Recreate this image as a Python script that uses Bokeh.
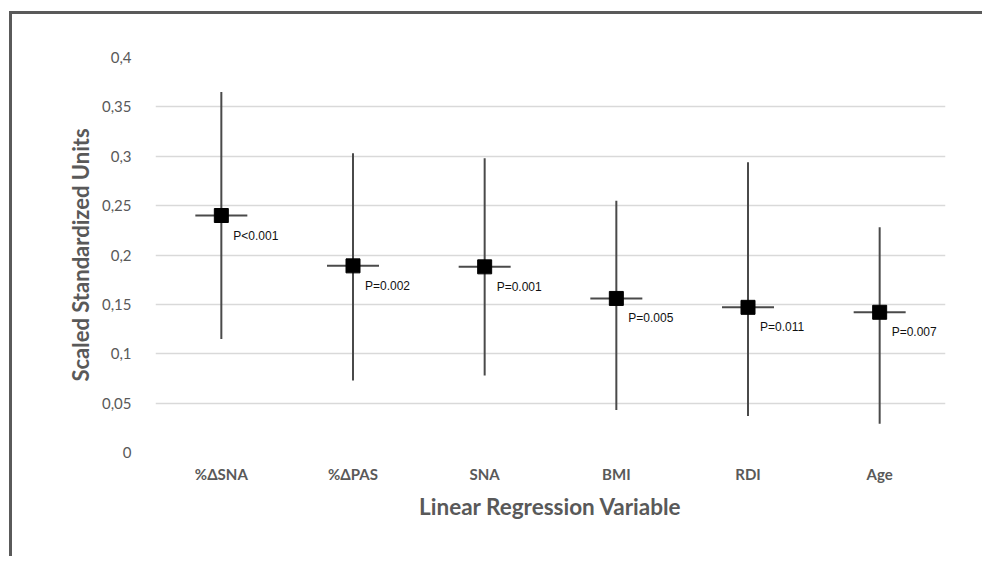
from bokeh.plotting import figure
from bokeh.models import ColumnDataSource, FixedTicker
from bokeh.embed import file_html
from bokeh.resources import INLINE
from bokeh.core.properties import value

categories = ["%ΔSNA", "%ΔPAS", "SNA", "BMI", "RDI", "Age"]
estimates = [0.240, 0.189, 0.188, 0.156, 0.147, 0.142]
upper = [0.365, 0.303, 0.298, 0.255, 0.294, 0.228]
lower = [0.115, 0.073, 0.078, 0.043, 0.037, 0.029]
p_labels = ["P<0.001", "P=0.002", "P=0.001", "P=0.005", "P=0.011", "P=0.007"]
y_ticks = [0, 0.05, 0.1, 0.15, 0.2, 0.25, 0.3, 0.35, 0.4]
y_tick_labels = ["0", "0,05", "0,1", "0,15", "0,2", "0,25", "0,3", "0,35", "0,4"]

src = ColumnDataSource(dict(cat=categories, est=estimates, up=upper, lo=lower, lab=p_labels))

GREY = "#595959"

p = figure(x_range=categories, y_range=(0, 0.4), width=973, height=545,
           output_backend="svg", toolbar_location=None,
           min_border_left=143, min_border_top=43, min_border_right=40, min_border_bottom=107,
           styles={"border-top": "3px solid #5a5a5a", "border-left": "3px solid #5a5a5a",
                   "margin-left": "9px", "margin-top": "11px"})
p.outline_line_color = None
p.x_range.range_padding = 0

p.segment(x0="cat", y0="lo", x1="cat", y1="up", source=src, line_color="#4a4a4a", line_width=2)
p.scatter(x="cat", y="est", source=src, marker="dash", size=52, line_color="#4a4a4a", line_width=2)
p.scatter(x="cat", y="est", source=src, marker="square", size=14, fill_color="black", line_color="black")
p.text(x="cat", y="est", text="lab", source=src, x_offset=12, y_offset=20,
       text_font=value("Liberation Sans"), text_font_size="12px", text_color="#111111",
       text_baseline="middle", text_align="left")

p.yaxis.ticker = FixedTicker(ticks=y_ticks)
p.yaxis.major_label_overrides = {t: l for t, l in zip(y_ticks, y_tick_labels)}
p.ygrid.ticker = FixedTicker(ticks=y_ticks)
p.ygrid.grid_line_color = "#d9d9d9"
p.ygrid.grid_line_width = 1.5
p.xgrid.grid_line_color = None

for ax in (p.xaxis, p.yaxis):
    ax.axis_line_color = None
    ax.major_tick_line_color = None
    ax.minor_tick_line_color = None
    ax.major_label_text_color = GREY
    ax.major_label_text_font = "Lato"
    ax.axis_label_text_color = GREY
    ax.axis_label_text_font = "Lato"
    ax.axis_label_text_font_style = "bold"

p.yaxis.major_label_text_font_size = "15px"
p.yaxis.major_label_standoff = 18
p.yaxis.axis_label = "Scaled Standardized Units"
p.yaxis.axis_label_text_font_size = "22px"
p.yaxis.axis_label_standoff = 5

p.xaxis.major_label_text_font_size = "15px"
p.xaxis.major_label_text_font_style = "bold"
p.xaxis.major_label_standoff = 6
p.xaxis.axis_label = "Linear Regression Variable"
p.xaxis.axis_label_text_font_size = "22.5px"
p.xaxis.axis_label_standoff = 7

open("out.html", "w").write(file_html(p, INLINE))
